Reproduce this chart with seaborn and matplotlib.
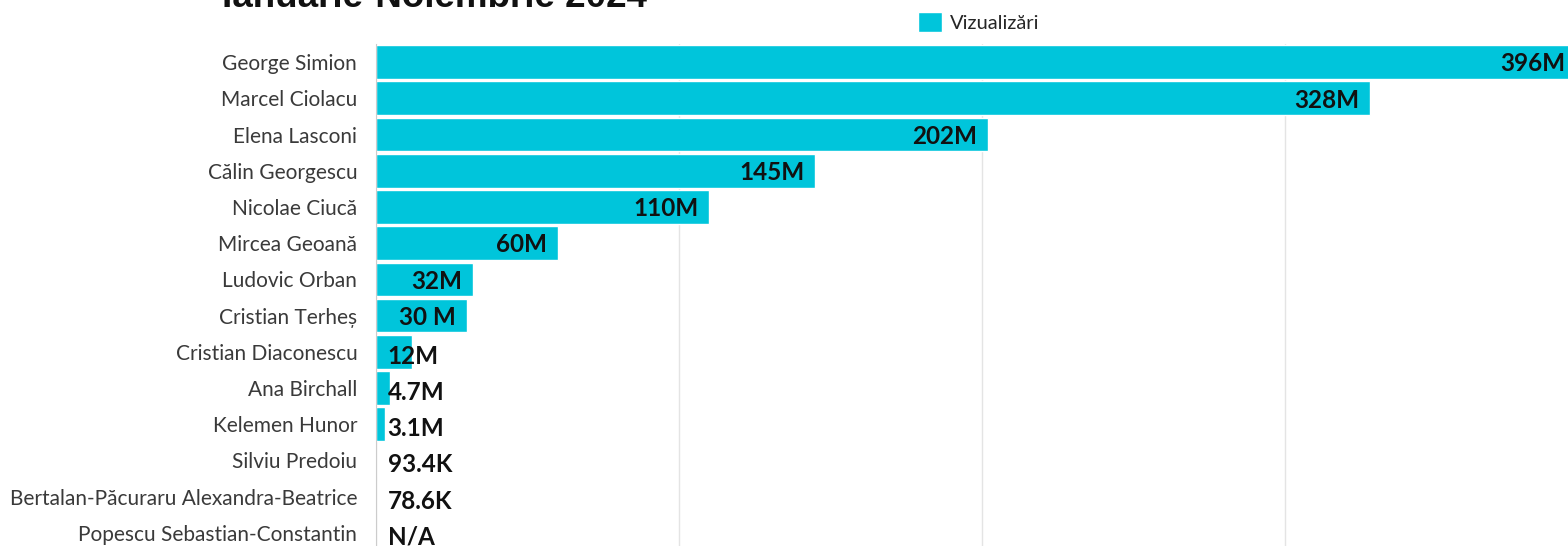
import numpy as np
import pandas as pd
import matplotlib
matplotlib.use('Agg')
import matplotlib.pyplot as plt
import seaborn as sns

# date
candidati = ['George Simion', 'Marcel Ciolacu', 'Elena Lasconi', 'Călin Georgescu',
             'Nicolae Ciucă', 'Mircea Geoană', 'Ludovic Orban', 'Cristian Terheș',
             'Cristian Diaconescu', 'Ana Birchall', 'Kelemen Hunor', 'Silviu Predoiu',
             'Bertalan-Păcuraru Alexandra-Beatrice', 'Popescu Sebastian-Constantin']
vizualizari = [396, 328, 202, 145, 110, 60, 32, 30, 12, 4.7, 3.1, 0.0934, 0.0786, np.nan]  # milioane
etichete = ['396M', '328M', '202M', '145M', '110M', '60M', '32M', '30 M', '12M',
            '4.7M', '3.1M', '93.4K', '78.6K', 'N/A']

df = pd.DataFrame({'candidat': candidati, 'vizualizari': vizualizari})

sns.set_style('white')
plt.rcParams['font.family'] = ['Lato', 'DejaVu Sans']

fig = plt.figure(figsize=(15.68, 5.46), dpi=100)
ax = fig.add_axes([376 / 1568, 1 - 551 / 546, 1 - 376 / 1568, (551 - 44) / 546])

sns.barplot(data=df, x='vizualizari', y='candidat', color='#00c5db', width=0.93,
            saturation=1, label='Vizualizări', ax=ax, zorder=2)

ax.set_xlim(0, 393.5)
ax.set_xticks([0, 100, 200, 300])
ax.xaxis.grid(True, color='#e4e4e4', linewidth=1, zorder=0)
ax.set_axisbelow(True)
ax.tick_params(axis='x', bottom=False, labelbottom=False)
ax.tick_params(axis='y', left=False, pad=10, labelsize=15, labelcolor='#3a3a3a')
ax.set_xlabel('')
ax.set_ylabel('')
for s in ['top', 'right', 'bottom']:
    ax.spines[s].set_visible(False)
ax.spines['left'].set_color('#cccccc')

# etichete valori
for i, (v, t) in enumerate(zip(vizualizari, etichete)):
    if not np.isnan(v) and v >= 30:
        ax.text(v - 3.5, i + 0.05, t, ha='right', va='center', fontsize=17.5,
                fontweight='bold', color='#111111', zorder=3)
    else:
        ax.text(3.8, i + 0.12, t, ha='left', va='center', fontsize=17.5,
                fontweight='bold', color='#111111', zorder=3)

ax.legend(loc='center left', bbox_to_anchor=(918 / 1568, 1 - 22 / 546),
          bbox_transform=fig.transFigure, frameon=False, fontsize=14.5,
          handlelength=1.2, handleheight=1.2, handletextpad=0.4,
          borderpad=0, borderaxespad=0)

fig.text(434 / 1568, 1 - 7 / 546, 'Ianuarie-Noiembrie 2024', ha='center', va='baseline',
         fontsize=26.5, fontweight='bold', family='Liberation Sans', color='#111111')

fig.savefig('out.png', dpi=100)
